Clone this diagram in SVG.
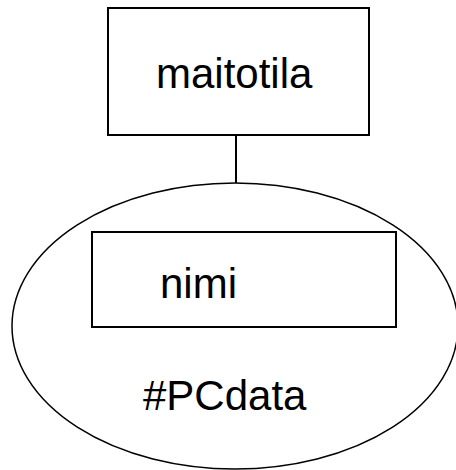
<svg xmlns="http://www.w3.org/2000/svg" width="456" height="470" viewBox="0 0 456 470">
  <style>
    .box { fill: #fff; stroke: #000; stroke-width: 2; }
    .oval { fill: #fff; stroke: #000; stroke-width: 1.5; }
    .conn { stroke: #000; stroke-width: 2; fill: none; }
    .lbl { font-family: "Liberation Sans", Arial, sans-serif; font-size: 42px; fill: #000; }
  </style>
  <rect width="456" height="470" fill="#fff"/>
  <g id="connectors">
    <line class="conn" x1="236" y1="135" x2="236" y2="183"/>
  </g>
  <g id="maitotila">
    <rect class="box" x="108" y="8" width="261" height="127"/>
    <text class="lbl" x="156" y="88">maitotila</text>
  </g>
  <g id="pcdata">
    <ellipse class="oval" cx="235" cy="326" rx="223" ry="143"/>
    <text class="lbl" x="143" y="410">#PCdata</text>
  </g>
  <g id="nimi">
    <rect class="box" x="92" y="232" width="304" height="95"/>
    <text class="lbl" x="160" y="298">nimi</text>
  </g>
</svg>
